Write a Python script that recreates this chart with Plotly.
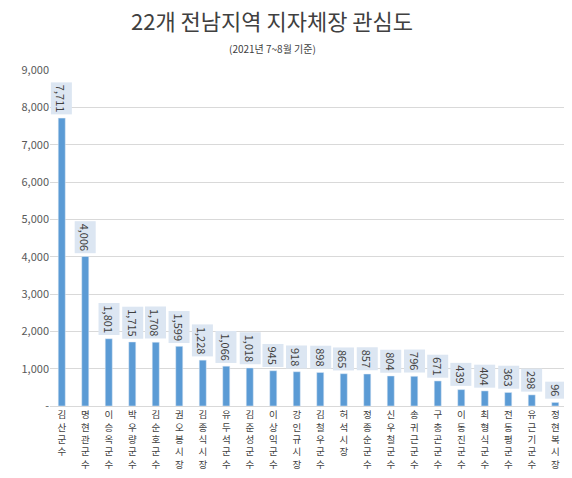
import plotly.graph_objects as go

# 22개 전남지역 지자체장 관심도 (2021년 7~8월)
names = ["김산 군수", "명현관 군수", "이승옥 군수", "박우량 군수", "김순호 군수",
         "권오봉 시장", "김종식 시장", "유두석 군수", "김준성 군수", "이상익 군수",
         "강인규 시장", "김철우 군수", "허석 시장", "정종순 군수", "신우철 군수",
         "송귀근 군수", "구충곤 군수", "이동진 군수", "최형식 군수", "전동평 군수",
         "유근기 군수", "정현복 시장"]
values = [7711, 4006, 1801, 1715, 1708, 1599, 1228, 1066, 1018, 945, 918,
          898, 865, 857, 804, 796, 671, 439, 404, 363, 298, 96]
ytick_vals = [0, 1000, 2000, 3000, 4000, 5000, 6000, 7000, 8000, 9000]
ytick_text = ["-", "1,000", "2,000", "3,000", "4,000", "5,000",
              "6,000", "7,000", "8,000", "9,000"]

FONT = "Noto Sans CJK KR"

# stack the characters of each name vertically
stacked = ["<br>".join(list(n.replace(" ", ""))) for n in names]

fig = go.Figure()
fig.add_trace(go.Bar(
    x=names, y=values,
    marker_color="#5b9bd5",
    width=0.3,
    hoverinfo="x+y",
))

# value labels with a light box, rotated like the original
for n, v in zip(names, values):
    fig.add_annotation(
        x=n, y=v, text=f"{v:,}", textangle=90,
        showarrow=False, yanchor="bottom", yshift=3,
        bgcolor="#dce6f2", borderpad=2,
        font=dict(family=FONT, size=11, color="#404040"),
    )

# title and subtitle
fig.add_annotation(
    text="22개 전남지역 지자체장 관심도", xref="paper", yref="paper",
    x=0.43, y=1.0, yshift=50, xanchor="center", yanchor="middle",
    showarrow=False, font=dict(family=FONT, size=22, color="#404040"),
)
fig.add_annotation(
    text="(2021년 7~8월 기준)", xref="paper", yref="paper",
    x=0.43, y=1.0, yshift=22, xanchor="center", yanchor="middle",
    showarrow=False, font=dict(family=FONT, size=10, color="#404040"),
)

fig.update_layout(
    width=572, height=478,
    margin=dict(l=42, r=13, t=62, b=80, autoexpand=False),
    paper_bgcolor="white", plot_bgcolor="white",
    showlegend=False,
    bargap=0.7,
    font=dict(family=FONT, color="#595959"),
)
fig.update_yaxes(
    range=[0, 9000], tickvals=ytick_vals, ticktext=ytick_text,
    showgrid=True, gridcolor="#d9d9d9", gridwidth=1,
    zeroline=False, showline=False, ticks="", automargin=False,
    tickfont=dict(family=FONT, size=11, color="#595959"),
)
fig.update_xaxes(
    tickvals=names, ticktext=stacked, tickangle=0,
    showline=True, linecolor="#d9d9d9", linewidth=1,
    ticks="", showgrid=False, automargin=False,
    tickfont=dict(family=FONT, size=9.5, color="#404040"),
)

fig.write_html("out.html")
